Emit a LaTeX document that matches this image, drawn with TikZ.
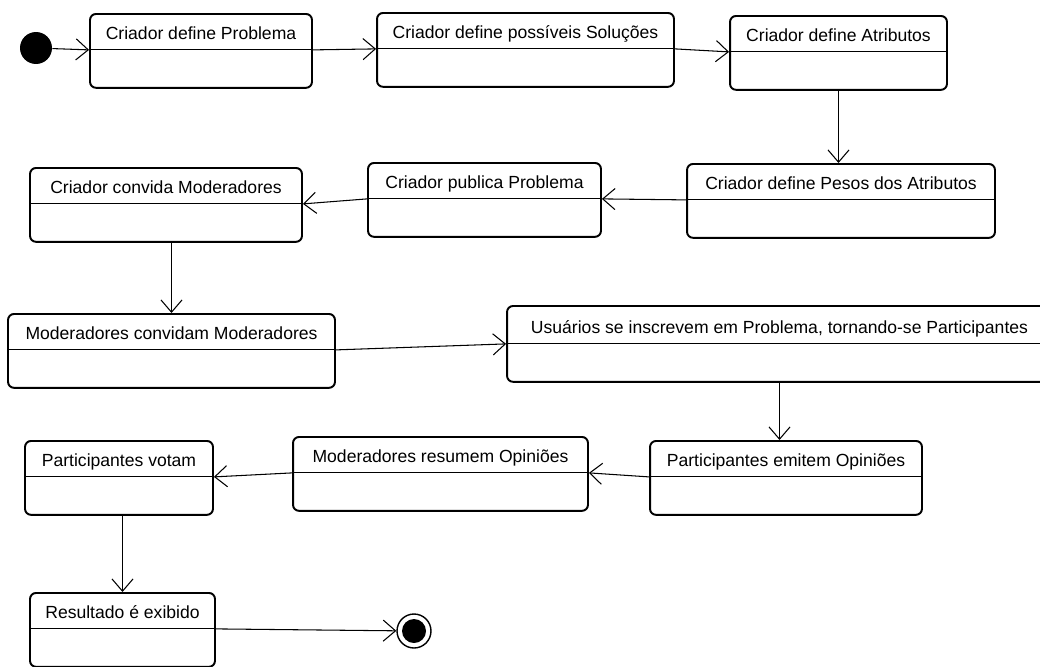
\documentclass[tikz,border=0pt]{standalone}
\usepackage{fontspec}
\setmainfont{Liberation Sans}
\usetikzlibrary{shapes.multipart,arrows.meta}

\begin{document}
\begin{tikzpicture}[x=0.02cm, y=-0.02cm,
	atividade/.style={rectangle split, rectangle split parts=2, rectangle split draw splits=false,
		draw, line width=1.1pt, rounded corners=0.12cm, anchor=north, inner ysep=0pt,
		text height=0.50cm, text depth=0.18cm,
		rectangle split empty part height=0.72cm, rectangle split empty part depth=0pt,
		font=\fontsize{10}{12}\selectfont},
	transicao/.style={-{Straight Barb[length=7pt,width=12pt]}, line width=0.6pt}]
	\useasboundingbox (0,0) rectangle (1040,666);
	\clip (0,0) rectangle (1040,666);

	\node[circle, fill=black, minimum size=0.64cm, inner sep=0pt] (inicio) at (36,48) {};
	\node[atividade, minimum width=4.44cm] (define) at (201,13) {Criador define Problema};
	\node[atividade, minimum width=5.94cm] (solucoes) at (525.5,12) {Criador define possíveis Soluções};
	\node[atividade, minimum width=4.34cm] (atributos) at (838.5,15) {Criador define Atributos};
	\node[atividade, minimum width=6.16cm] (pesos) at (841,163) {Criador define Pesos dos Atributos};
	\node[atividade, minimum width=4.66cm] (publica) at (484.5,162) {Criador publica Problema};
	\node[atividade, minimum width=5.44cm] (convida) at (166,167) {Criador convida Moderadores};
	\node[atividade, minimum width=6.54cm] (convidam) at (171.5,313) {Moderadores convidam Moderadores};
	\node[atividade, minimum width=10.9cm, text height=0.54cm] (inscrevem) at (779.5,305) {Usuários se inscrevem em Problema, tornando-se Participantes};
	\node[atividade, minimum width=5.44cm] (emitem) at (786,440) {Participantes emitem Opiniões};
	\node[atividade, minimum width=5.90cm] (resumem) at (440.5,436) {Moderadores resumem Opiniões};
	\node[atividade, minimum width=3.76cm] (votam) at (119,440) {Participantes votam};
	\node[atividade, minimum width=3.70cm] (resultado) at (122.5,592) {Resultado é exibido};
	\node[circle, draw, line width=0.8pt, minimum size=0.68cm, inner sep=0pt] (fim) at (414,631) {};
	\fill (fim) circle (0.24cm);

	% linhas divisorias
	\foreach \n in {define,solucoes,atributos,pesos,publica,convida,convidam,inscrevem,emitem,resumem,votam,resultado}
		\draw[line width=0.6pt] (\n.text split west) -- (\n.text split east);

	\draw[transicao] (inicio) -- (define.text split west);
	\draw[transicao] (define.text split east) -- (solucoes.text split west);
	\draw[transicao] (solucoes.text split east) -- (atributos.text split west);
	\draw[transicao] (atributos.south) -- (atributos.south |- pesos.north);
	\draw[transicao] (pesos.text split west) -- (publica.text split east);
	\draw[transicao] (publica.text split west) -- (convida.text split east);
	\draw[transicao] (convidam.north |- convida.south) -- (convidam.north);
	\draw[transicao] (convidam.text split east) -- (inscrevem.text split west);
	\draw[transicao] (inscrevem.south) -- (inscrevem.south |- emitem.north);
	\draw[transicao] (emitem.text split west) -- (resumem.text split east);
	\draw[transicao] (resumem.text split west) -- (votam.text split east);
	\draw[transicao] (resultado.north |- votam.south) -- (resultado.north);
	\draw[transicao] (resultado.text split east) -- (fim);
\end{tikzpicture}
\end{document}
